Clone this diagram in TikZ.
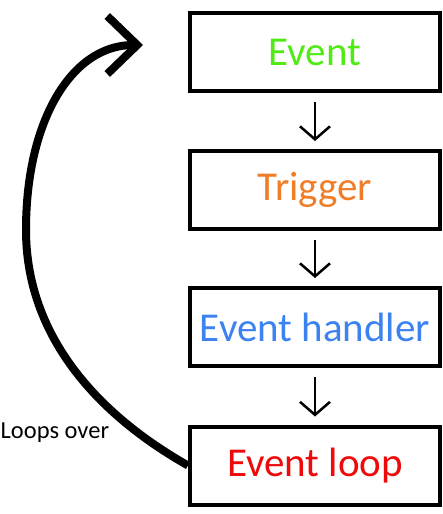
\documentclass[tikz,border=0pt]{standalone}
\usepackage{fontspec}
\setmainfont{Carlito}
\usetikzlibrary{arrows.meta}
\definecolor{evgreen}{RGB}{80,235,20}
\definecolor{evorange}{RGB}{240,125,40}
\definecolor{evblue}{RGB}{60,130,240}
\definecolor{evred}{RGB}{238,10,10}
\tikzset{
  stagebox/.style={draw=black, line width=4pt, minimum width=250pt, minimum height=78pt,
    inner sep=0pt, font=\fontsize{41}{41}\selectfont, anchor=center},
  flowarrow/.style={line width=2.5pt, -{Straight Barb[length=13pt,width=30pt,sharp]},
    shorten <=9pt, shorten >=8pt},
  looparrow/.style={line width=8pt, -{Straight Barb[length=30pt,width=58pt,sharp]}}
}
\begin{document}
\begin{tikzpicture}[x=1pt,y=-1pt]
\useasboundingbox (0,0) rectangle (443,514);
\node[stagebox, text=evgreen] (event) at (315,52) {Event};
\node[stagebox, text=evorange] (trigger) at (315,190) {Trigger};
\node[stagebox, text=evblue] (handler) at (315,327) {Event handler};
\node[stagebox, text=evred] (loop) at (315,465.5) {Event loop};
\draw[flowarrow] (event) -- (trigger);
\draw[flowarrow] (trigger) -- (handler);
\draw[flowarrow] (handler) -- (loop);
\coordinate (looptip) at (143,45);
\coordinate (loopside) at (26,230);
\draw[looparrow] (loop.west) .. controls (90,410) and (26,330) .. (loopside)
  .. controls (26,120) and (72,45) .. (looptip);
\node[anchor=base west, font=\fontsize{24.5}{24.5}\selectfont, inner sep=0pt] (loopsover) at (0.5,438) {Loops over};
\end{tikzpicture}
\end{document}
